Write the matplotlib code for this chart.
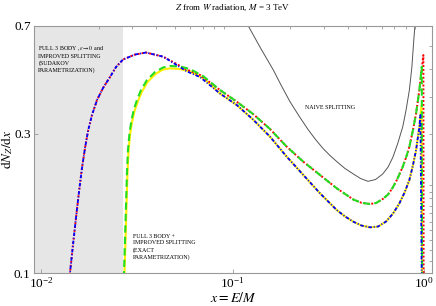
import matplotlib
matplotlib.use("Agg")
import matplotlib.pyplot as plt
from matplotlib.ticker import FixedLocator, NullLocator, LogLocator, NullFormatter

plt.rcParams['font.family'] = ['Liberation Serif', 'DejaVu Serif']
plt.rcParams['mathtext.fontset'] = 'stix'

# full 3 body, eps -> 0 (Sudakov): rising part shared by red and blue
sudakov_head_x = [0.0136, 0.01417, 0.01469, 0.01523, 0.01579, 0.01637, 0.01698, 0.01760,
                  0.01846, 0.01961, 0.02108, 0.02293, 0.02464, 0.02681, 0.03097, 0.03533,
                  0.04352]
sudakov_head_y = [0.085, 0.100, 0.1247, 0.1542, 0.1893, 0.2287, 0.2677, 0.3060,
                  0.3471, 0.3907, 0.4294, 0.4684, 0.5066, 0.5376, 0.5590, 0.568,
                  0.5495]
red_link_x = [0.0576, 0.0677]
red_link_y = [0.497, 0.476]
blue_link_x = [0.0576, 0.0677]
blue_link_y = [0.490, 0.468]

# full 3 body, exact parametrization: rising part of green and yellow
green_head_x = [0.02706, 0.02713, 0.02745, 0.02779, 0.02812, 0.02846, 0.02898, 0.02969,
                0.03059, 0.03171, 0.03328, 0.03577, 0.03938, 0.04336, 0.04717, 0.05318,
                0.05998, 0.07015]
green_head_y = [0.08, 0.100, 0.1297, 0.1708, 0.2216, 0.2635, 0.3012, 0.3338,
                0.3640, 0.3907, 0.4227, 0.4574, 0.4871, 0.5047, 0.5108, 0.5088,
                0.4987, 0.4720]
yellow_head_x = [0.02711, 0.02729, 0.02763, 0.02796, 0.02830, 0.02864, 0.02916, 0.02987,
                 0.03078, 0.03190, 0.03347, 0.03598, 0.03962, 0.04336, 0.04717, 0.05318,
                 0.05998, 0.07015]
yellow_head_y = [0.08, 0.100, 0.1297, 0.1708, 0.2216, 0.2615, 0.2966, 0.3285,
                 0.3582, 0.3831, 0.4145, 0.4502, 0.4795, 0.4969, 0.5014, 0.4987,
                 0.4890, 0.4646]

# tails: red + green follow the upper one, blue + yellow the lower one
upper_x = [0.08603, 0.1052, 0.1280, 0.1570, 0.1919, 0.2343, 0.2862, 0.3500, 0.3868,
           0.4273, 0.4717, 0.5224, 0.5615, 0.6085, 0.6486, 0.6863, 0.7271, 0.7740,
           0.8054, 0.8381, 0.8730, 0.9085, 0.9452]
upper_y = [0.4227, 0.3855, 0.3499, 0.3109, 0.2704, 0.2403, 0.2164, 0.1949, 0.1864,
           0.1784, 0.1738, 0.1722, 0.1736, 0.1791, 0.1856, 0.1961, 0.2105, 0.2310,
           0.2484, 0.2704, 0.3060, 0.3518, 0.4227]
lower_x = [0.08603, 0.1052, 0.1280, 0.1570, 0.1919, 0.2343, 0.2862, 0.3500, 0.3868,
           0.4273, 0.4717, 0.5224, 0.5751, 0.6331, 0.6889, 0.7431, 0.7910, 0.8381,
           0.8730, 0.9085, 0.9452]
lower_y = [0.4112, 0.3756, 0.3350, 0.2926, 0.2499, 0.2164, 0.1874, 0.1642, 0.1561,
           0.1498, 0.1453, 0.1433, 0.1442, 0.1500, 0.1598, 0.1731, 0.1885, 0.2081,
           0.2323, 0.2635, 0.3166]

# end-point peaks near x = 1
red_spike_x = [0.9728, 0.9917, 0.996]
red_spike_y = [0.500, 0.5568, 0.05]
green_spike_x = [0.9728, 0.977]
green_spike_y = [0.5078, 0.05]
blue_spike_x = [0.9566, 0.980]
blue_spike_y = [0.3471, 0.05]
yellow_spike_x = [0.9681, 0.982]
yellow_spike_y = [0.3726, 0.05]

# naive splitting
naive_x = [0.1162, 0.1209, 0.1400, 0.1633, 0.1803, 0.1996, 0.2225, 0.2479, 0.2713,
           0.2969, 0.3229, 0.3500, 0.3868, 0.4273, 0.4661, 0.5100, 0.5582, 0.6085,
           0.6486, 0.6863, 0.7271, 0.7740, 0.8054, 0.8381, 0.8636, 0.8837, 0.9029]
naive_y = [0.734, 0.700, 0.5886, 0.4950, 0.4361, 0.3855, 0.3444, 0.3097, 0.2862,
           0.2667, 0.2523, 0.2406, 0.2277, 0.2182, 0.2105, 0.2059, 0.2089, 0.2182,
           0.2304, 0.2484, 0.2763, 0.3166, 0.3610, 0.4227, 0.5066, 0.6267, 0.7455]

shade_end = 0.0268
x_min, x_max = 0.00914, 1.10
y_min, y_max = 0.1, 0.7

red_x = sudakov_head_x + red_link_x + upper_x + red_spike_x
red_y = sudakov_head_y + red_link_y + upper_y + red_spike_y
blue_x = sudakov_head_x + blue_link_x + lower_x + blue_spike_x
blue_y = sudakov_head_y + blue_link_y + lower_y + blue_spike_y
green_x = green_head_x + upper_x + green_spike_x
green_y = green_head_y + upper_y + green_spike_y
yellow_x = yellow_head_x + lower_x + yellow_spike_x
yellow_y = yellow_head_y + lower_y + yellow_spike_y

fig = plt.figure(figsize=(4.36, 3.06), dpi=100)
ax = fig.add_axes([33.5 / 436, 33 / 306, 398.5 / 436, 247 / 306])
ax.set_xscale('log')
ax.set_yscale('log')

ax.axvspan(x_min, shade_end, color='#e6e6e6', lw=0, zorder=0)

ax.plot(naive_x, naive_y, color='#555555', lw=0.7, zorder=2)
ax.plot(yellow_x, yellow_y, color='#ffee00', lw=1.5, zorder=3)
ax.plot(red_x, red_y, color='#ff0000', lw=1.4, ls=(0, (1, 1)), zorder=4)
ax.plot(green_x, green_y, color='#22dd22', lw=1.5, ls=(0, (3.5, 2)), zorder=5)
ax.plot(blue_x, blue_y, color='#0000ff', lw=1.3, ls=(0, (2, 1, 0.6, 1)), zorder=6)

ax.set_xlim(x_min, x_max)
ax.set_ylim(y_min, y_max)

ax.yaxis.set_major_locator(FixedLocator([0.1, 0.3, 0.7]))
ax.yaxis.set_minor_locator(NullLocator())
ax.set_yticklabels(['0.1', '0.3', '0.7'])
ax.xaxis.set_major_locator(LogLocator(base=10, numticks=10))
ax.xaxis.set_minor_locator(NullLocator())

gray = '#999999'
for s in ax.spines.values():
    s.set_color(gray)
    s.set_linewidth(0.8)
ax.tick_params(which='both', direction='in', length=3, width=0.6, color=gray,
               labelsize=9.5, pad=2)

top = ax.secondary_xaxis('top')
top.set_xscale('log')
top.xaxis.set_major_locator(LogLocator(base=10, subs=[2, 3, 4, 5, 6, 7, 8, 9], numticks=20))
top.xaxis.set_major_formatter(NullFormatter())
top.xaxis.set_minor_locator(NullLocator())
top.tick_params(direction='in', length=2.5, width=0.6, color=gray)
top.spines['top'].set_visible(False)

right = ax.secondary_yaxis('right')
right.set_yscale('log')
right.yaxis.set_major_locator(FixedLocator([0.11, 0.12, 0.13, 0.14, 0.15, 0.16, 0.17, 0.18,
                                            0.19, 0.2, 0.3, 0.4, 0.5, 0.6]))
right.yaxis.set_major_formatter(NullFormatter())
right.yaxis.set_minor_locator(NullLocator())
right.tick_params(direction='in', length=2.5, width=0.6, color=gray)
right.spines['right'].set_visible(False)

ax.set_xlabel(r'$x = E/M$', fontsize=10)
ax.xaxis.set_label_coords(0.5, -0.072)
ax.set_ylabel(r'$\mathrm{d}N_Z/\mathrm{d}x$', fontsize=9.5)
ax.yaxis.set_label_coords(-0.047, 0.5)

fig.text(232.7 / 436, 1 - 8 / 306, r'$Z$ from $W$ radiation, $M$ = 3 TeV',
         ha='center', va='center', fontsize=6.5)

ax.text(0.012, 0.925, 'FULL 3 BODY ,$\\epsilon\\rightarrow 0$ and\nIMPROVED SPLITTING\n(SUDAKOV\nPARAMETRIZATION)',
        transform=ax.transAxes, ha='left', va='top', fontsize=4.3, linespacing=1.3)
ax.text(0.744, 0.672, 'NAIVE SPLITTING', transform=ax.transAxes,
        ha='center', va='center', fontsize=4.3)
ax.text(0.25, 0.157, 'FULL 3 BODY +\nIMPROVED SPLITTING\n(EXACT\nPARAMETRIZATION)',
        transform=ax.transAxes, ha='left', va='top', fontsize=4.3, linespacing=1.3)

fig.savefig('out.png', dpi=100)
